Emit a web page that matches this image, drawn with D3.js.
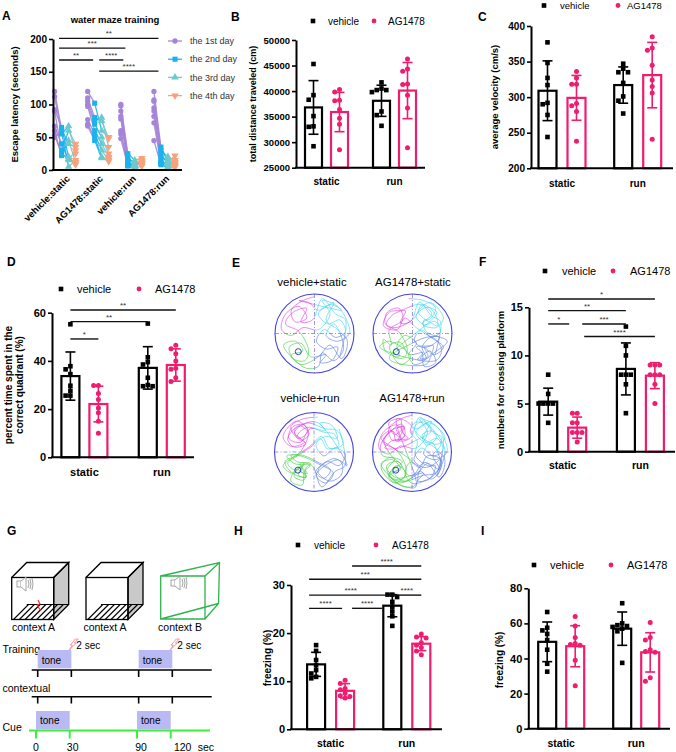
<!DOCTYPE html>
<html><head><meta charset="utf-8">
<script src="https://cdn.jsdelivr.net/npm/d3@7"></script>
<style>body{margin:0;background:#fff}svg{display:block}</style>
</head><body><svg id="c" width="676" height="752"></svg>
<script>
const FONT = '"Liberation Sans", Arial, Helvetica, sans-serif';
const PINK = "#ef1c6f";

// ---------- DATA ----------
const barCats = ["static", "run"];
const barGroups = ["vehicle", "AG1478"];

// Panel A: escape latency per mouse, [day1, day2, day3, day4]
const A_groups = ["vehicle:static", "AG1478:static", "vehicle:run", "AG1478:run"];
const A_days = ["the 1st day", "the 2nd day", "the 3rd day", "the 4th day"];
const A_ticks = [0, 50, 100, 150, 200];
const A_vehicleStatic = [[120,62,40,35],[112,55,67,25],[92,65,20,10],[90,30,60,40],[67,40,15,30],[60,22,45,12],[53,25,17,8],[50,58,5,15]];
const A_agStatic = [[120,102,60,50],[110,80,75,48],[105,75,80,35],[100,70,50,25],[97,60,40,20],[77,55,30,15],[70,50,20,13],[67,45,18,18]];
const A_vehicleRun = [[100,25,15,18],[98,20,8,15],[90,15,12,10],[82,12,5,13],[78,10,10,8],[60,8,6,12],[55,7,9,9],[48,6,3,6]];
const A_agRun = [[120,35,12,22],[107,30,20,10],[105,25,8,15],[95,20,15,7],[90,15,6,12],[82,12,10,8],[72,10,5,6],[45,8,3,4]];
const A_sig = [{a:0,b:3,v:201,l:"**"},{a:0,b:2,v:186,l:"***"},{a:0,b:1,v:168,l:"**"},{a:1,b:2,v:168,l:"****"},{a:1,b:3,v:151,l:"****"}];

// Panel B: total distance (order: vehicle static, AG static, vehicle run, AG run)
const B_mean = [36800, 35900, 38100, 40100];
const B_sd = [5250, 3850, 3050, 5500];
const B_pts = [[45300,39200,38300,35100,33100,33000,29200],[40300,39800,38200,38100,36400,34700,33500,28500],[41700,40500,40200,40200,39800,36000,35300,33200],[46300,44300,43900,41400,41300,39200,36700,28900]];
const B_ticks = [25000,30000,35000,40000,45000,50000];

// Panel C: average velocity
const C_mean = [309, 299, 317, 331];
const C_sd = [42, 31.5, 25.5, 46];
const C_pts = [[377,348,327,317,292,290,275,244],[336,327,318,318,291,288,280,238],[347,340,335,335,320,301,295,277],[385,369,366,345,324,315,306,241]];
const C_ticks = [200,250,300,350,400];

// Panel D: percent time in correct quadrant
const D_mean = [33.7, 22.1, 37.1, 38.3];
const D_sd = [10, 7.4, 8.8, 6.7];
const D_pts = [[55.2,37.8,36.5,34.5,29.7,27.6,25.6,25.6],[29.8,29.8,26.5,24,20.5,18.5,15,10],[55.5,41.5,39.5,38.5,33,30,29.5,29.5],[46.5,45,43,40,37,36.5,33,31.5]];
const D_ticks = [0,20,40,60];
const D_sig = [{a:0,b:3,v:61.1,l:"**"},{a:0,b:2,v:56.3,l:"**"},{a:0,b:1,v:49.1,l:"*"}];

// Panel F: platform crossings
const F_mean = [5.2, 2.5, 8.6, 7.9];
const F_sd = [1.4, 1.1, 2.7, 1.35];
const F_pts = [[8,6,5,5,5,5,3],[4,4,3,3,2,2,2,1],[13,11,10,8,8,8,7,4],[9,9,9,8,8,8,7,5]];
const F_ticks = [0,5,10,15];
const F_sig = [{a:0,b:3,v:15.86,l:"*"},{a:0,b:2,v:14.65,l:"**"},{a:0,b:1,v:13.27,l:"*",s2:8},{a:1,b:2,v:13.27,l:"***",s1:5},{a:1,b:3,v:11.96,l:"****",s1:7}];

// Panel H: freezing (contextual)
const H_mean = [13.5, 8.0, 25.7, 17.8];
const H_sd = [2.5, 1.5, 2.3, 1.45];
const H_pts = [[17.5,16.3,14.4,13.3,12.3,11.6,10.9,10.6],[10.2,9.5,8.5,8.2,7.5,7,6.8,6.5],[28,28,27.5,26.5,25.5,24.5,23.5,21.5],[19.8,19.2,19,18,17.5,17,16.3,15.5]];
const H_ticks = [0,10,20,30];
const H_sig = [{a:1,b:3,v:33.95,l:"****",s1:7},{a:0,b:3,v:31.2,l:"***",s1:-7},{a:0,b:2,v:27.9,l:"****",s1:-7},{a:2,b:3,v:27.9,l:"****"},{a:0,b:1,v:25.15,l:"****",s1:-7,s2:3},{a:1,b:2,v:25.15,l:"****",s1:7,s2:10}];

// Panel I: freezing (cue)
const I_mean = [49.5, 47, 57, 43.5];
const I_sd = [11.3, 11.7, 9.5, 11.2];
const I_pts = [[66.5,57.5,56,54,50.5,45,37,32.5],[64,58.5,52,48.5,48,47.5,39,24.5],[71.5,60,59,58.5,58,57,55.5,37.5],[60.5,52,50.5,45,44,43.5,29,27]];
const I_ticks = [0,20,40,60,80];

// Panel E: swim trajectories (unit-disk coords)
const E_labels = ["vehicle+static", "AG1478+static", "vehicle+run", "AG1478+run"];
const E_traj1 = [[0.0,-0.95],[-0.3,-0.85],[-0.6,-0.6],[-0.5,-0.3],[-0.2,-0.4],[-0.4,-0.7],[-0.75,-0.5],[-0.85,-0.1],[-0.6,0.05],[-0.3,-0.15],[0.1,-0.1],[0.4,-0.5],[0.2,-0.85],[0.6,-0.7],[0.85,-0.3],[0.9,0.0],[0.6,0.2],[0.3,0.05],[0.5,-0.25],[0.75,0.4],[0.5,0.7],[0.2,0.5],[0.1,0.85],[-0.2,0.9],[-0.5,0.7],[-0.8,0.3],[-0.5,0.2],[-0.3,0.45],[-0.6,0.55],[-0.35,0.8],[0.1,0.6],[0.4,0.3],[0.7,0.65],[0.85,0.2],[0.6,-0.1],[0.3,-0.35],[0.5,-0.8],[0.1,-0.6],[-0.15,-0.8],[-0.4,-0.85]];
const E_traj2 = [[0.1,-0.9],[-0.3,-0.85],[-0.6,-0.65],[-0.4,-0.35],[-0.15,-0.55],[-0.45,-0.8],[-0.8,-0.4],[-0.6,-0.15],[-0.25,-0.25],[-0.5,-0.5],[-0.2,-0.75],[0.3,-0.6],[0.6,-0.55],[0.75,-0.2],[0.4,-0.1],[0.2,-0.4],[-0.1,-0.15],[-0.55,0.15],[-0.8,0.35],[-0.55,0.55],[-0.3,0.35],[-0.4,0.6],[-0.2,0.65],[-0.45,0.45],[-0.6,0.75],[-0.3,0.85],[-0.25,0.5],[-0.1,0.35],[-0.5,0.3],[-0.7,0.1],[-0.35,0.1],[0.1,0.3],[0.5,0.55],[0.3,0.8],[0.05,0.6],[0.6,0.2],[0.85,0.35]];
const E_traj3 = [[0.7,-0.6],[0.4,-0.75],[0.1,-0.5],[0.35,-0.25],[0.65,-0.35],[0.8,-0.05],[0.55,0.1],[0.25,-0.1],[0.05,0.2],[0.3,0.4],[0.6,0.35],[0.45,0.7],[0.15,0.75],[0.3,0.55],[-0.1,0.6],[-0.35,0.25],[-0.65,0.35],[-0.55,0.65],[-0.25,0.7],[-0.15,0.45],[-0.4,-0.05],[-0.75,-0.25],[-0.55,-0.55],[-0.2,-0.65],[-0.35,-0.3],[-0.05,-0.35],[0.2,-0.9],[0.55,-0.5],[0.8,-0.35],[0.65,0.6]];
const E_platform = [-0.41, 0.46];

// Panel G: timeline
const G_marks = [0, 30, 90, 120];
const G_tones = [[0, 30], [90, 120]];
const G_contexts = ["context A", "context A", "context B"];

// ---------- DRAW ----------
const svg = d3.select("#c");
svg.append("rect").attr("width",676).attr("height",752).attr("fill","#fff");

function txt(g, x, y, s, o = {}) {
  return g.append("text").attr("x", x).attr("y", y).text(s)
    .attr("font-family", FONT).attr("font-size", o.size || 10)
    .attr("font-weight", o.bold ? "bold" : "normal")
    .attr("text-anchor", o.anchor || "start")
    .attr("fill", o.fill || "#000");
}
function ln(g, x1, y1, x2, y2, stroke = "#000", w = 1.5) {
  return g.append("line").attr("x1",x1).attr("y1",y1).attr("x2",x2).attr("y2",y2)
    .attr("stroke",stroke).attr("stroke-width",w);
}

// panel letters
[["A",2,20],["B",231,21],["C",478,21],["D",7,266],["E",232,267],["F",479,266],["G",7,535],["H",234,535],["I",481,535]]
  .forEach(([s,x,y]) => txt(svg,x,y,s,{size:12,bold:true}));

function styleAxis(sel, size) {
  sel.select(".domain").attr("stroke","#000").attr("stroke-width",2);
  sel.selectAll(".tick line").attr("stroke","#000").attr("stroke-width",1.6);
  sel.selectAll(".tick text").attr("font-family",FONT).attr("font-size",size).attr("font-weight","bold").attr("fill","#000");
}

function legend2(g, y, xs, size) {
  g.append("rect").attr("x",xs[0]-2.3).attr("y",y-2.3).attr("width",4.6).attr("height",4.6).attr("fill","#000");
  txt(g, xs[1], y + size*0.36, barGroups[0], {size});
  g.append("circle").attr("cx",xs[2]).attr("cy",y).attr("r",2.4).attr("fill",PINK);
  txt(g, xs[3], y + size*0.36, barGroups[1], {size});
}

function barPanel(p, mean, sd, pts, ticks, sig) {
  const g = svg.append("g");
  const y = d3.scaleLinear().domain([ticks[0], ticks[ticks.length-1]]).range([p.yBot, p.yTop]);
  const step = p.c1 - p.c0;
  const xc = d3.scaleBand().domain(barCats).range([p.c0 - step/2, p.c1 + step/2]);
  const xs = d3.scalePoint().domain(barGroups).range([-p.off, p.off]);
  const cx = i => xc(barCats[Math.floor(i/2)]) + xc.bandwidth()/2 + xs(barGroups[i%2]);
  const col = i => i % 2 ? PINK : "#000";
  const y0 = y(ticks[0]);

  mean.forEach((m, i) => {
    g.append("rect").attr("x", cx(i) - p.bw/2).attr("y", y(m))
      .attr("width", p.bw).attr("height", y0 - y(m))
      .attr("fill", "#fff").attr("stroke", col(i)).attr("stroke-width", 2.2);
  });
  mean.forEach((m, i) => {
    const c = cx(i), cap = 5;
    ln(g, c, y(m + sd[i]), c, y(m - sd[i]), col(i), 1.6);
    ln(g, c - cap, y(m + sd[i]), c + cap, y(m + sd[i]), col(i), 1.6);
    ln(g, c - cap, y(m - sd[i]), c + cap, y(m - sd[i]), col(i), 1.6);
  });
  pts.forEach((arr, i) => {
    const placed = [];
    const sp = 4.8;
    arr.forEach(v => {
      const py = y(v);
      const offs = [0, -sp, sp, -2*sp, 2*sp];
      let off = 0;
      for (const o of offs) {
        if (placed.every(q => Math.abs(q[1]-py) >= sp || Math.abs(q[0]-o) >= sp)) { off = o; break; }
      }
      placed.push([off, py]);
      if (i % 2 === 0) {
        g.append("rect").attr("x", cx(i)+off-2.3).attr("y", py-2.3).attr("width",4.6).attr("height",4.6).attr("fill","#000");
      } else {
        g.append("circle").attr("cx", cx(i)+off).attr("cy", py).attr("r", 2.5).attr("fill", PINK);
      }
    });
  });
  const ya = g.append("g").attr("transform", `translate(${p.ax},0)`)
    .call(d3.axisLeft(y).tickValues(ticks).tickSize(4).tickSizeOuter(0).tickPadding(2).tickFormat(d3.format("d")));
  styleAxis(ya, p.tick);
  ln(g, p.ax - 1, y0, p.axEnd, y0, "#000", 2);
  barCats.forEach(c => txt(g, xc(c) + xc.bandwidth()/2, p.catY, c, {size:p.cat, bold:true, anchor:"middle"}));
  const ly = g.append("text").attr("transform", `translate(${p.lx},${p.ly}) rotate(-90)`)
    .attr("font-family",FONT).attr("font-size",p.lsize).attr("font-weight","bold").attr("text-anchor","middle");
  p.label.forEach((s, k) => ly.append("tspan").attr("x",0).attr("dy", k ? p.lsize*1.1 : 0).text(s));
  legend2(g, p.legY, p.legX, p.leg);
  (sig || []).forEach(s => {
    const x1 = cx(s.a) + (s.s1 || 0), x2 = cx(s.b) - (s.s2 || 0), yy = y(s.v);
    ln(g, x1, yy, x2, yy, "#111", 1.4);
    txt(g, (x1+x2)/2, yy - 2, s.l, {size:8, anchor:"middle", fill:"#333"});
  });
}

barPanel({ax:296, axEnd:425, yTop:40, yBot:167.7, c0:326.5, c1:394.5, off:13, bw:17, tick:9.5, cat:10, catY:185,
  label:["total distance traveled (cm)"], lx:256, ly:104, lsize:9, legY:21, legX:[313,328,374,388], leg:10},
  B_mean, B_sd, B_pts, B_ticks);
barPanel({ax:531, axEnd:673, yTop:26, yBot:168.3, c0:562, c1:637.7, off:14.5, bw:18, tick:10, cat:10, catY:187,
  label:["average velocity (cm/s)"], lx:498, ly:97, lsize:9.5, legY:5.5, legX:[544,560,618,627], leg:9.5},
  C_mean, C_sd, C_pts, C_ticks);
barPanel({ax:52, axEnd:194, yTop:312.7, yBot:457.3, c0:84.4, c1:161.8, off:14, bw:18, tick:11, cat:11, catY:475.5,
  label:["percent time spent in the","correct quadrant (%)"], lx:12, ly:385, lsize:10, legY:289, legX:[61,77,139,155], leg:11},
  D_mean, D_sd, D_pts, D_ticks, D_sig);
barPanel({ax:529, axEnd:675, yTop:307.3, yBot:451.7, c0:562.7, c1:640.4, off:14.5, bw:18, tick:11, cat:10.5, catY:469,
  label:["numbers for crossing platform"], lx:504, ly:380, lsize:9.5, legY:271, legX:[545,562,613,630], leg:11},
  F_mean, F_sd, F_pts, F_ticks, F_sig);
barPanel({ax:291, axEnd:442, yTop:585, yBot:729.3, c0:330.6, c1:406.8, off:14.5, bw:18, tick:11, cat:10.5, catY:747,
  label:["freezing (%)"], lx:271, ly:658, lsize:10, legY:545, legX:[298,314,376,392], leg:10},
  H_mean, H_sd, H_pts, H_ticks, H_sig);
barPanel({ax:528.3, axEnd:670, yTop:588.3, yBot:728.7, c0:561.2, c1:636.2, off:14, bw:18, tick:11, cat:10.5, catY:746.5,
  label:["freezing (%)"], lx:503, ly:660, lsize:10, legY:565, legX:[534,550,611,627], leg:11},
  I_mean, I_sd, I_pts, I_ticks);

// ---------- Panel A ----------
(function() {
  const g = svg.append("g");
  const y = d3.scaleLinear().domain([0, 200]).range([170, 39]);
  const xg = d3.scaleBand().domain(A_groups).range([48.5, 181]);
  const xd = d3.scalePoint().domain(A_days).range([-10.5, 10.5]);
  const colors = ["#a585d8", "#1cb2ec", "#6ec9cc", "#f7a27d"];
  const shapes = [d3.symbolCircle, d3.symbolSquare, d3.symbolTriangle, d3.symbolTriangle];
  const rot = [0, 0, 0, 180];
  const sizes = [22, 26, 24, 24];
  const groupData = [A_vehicleStatic, A_agStatic, A_vehicleRun, A_agRun];
  const gx = (gi, d) => xg(A_groups[gi]) + xg.bandwidth()/2 + xd(A_days[d]);
  groupData.forEach((mice, gi) => {
    mice.forEach(m => {
      for (let d = 0; d < 3; d++) {
        ln(g, gx(gi, d), y(m[d]), gx(gi, d+1), y(m[d+1]), colors[d], 1.3).attr("stroke-opacity", 0.9);
      }
    });
  });
  groupData.forEach((mice, gi) => {
    mice.forEach(m => {
      m.forEach((v, d) => {
        g.append("path").attr("d", d3.symbol().type(shapes[d]).size(sizes[d])())
          .attr("transform", `translate(${gx(gi,d)},${y(v)}) rotate(${rot[d]})`).attr("fill", colors[d]);
      });
    });
  });
  const ya = g.append("g").attr("transform","translate(53,0)")
    .call(d3.axisLeft(y).tickValues(A_ticks).tickSize(4).tickSizeOuter(0).tickPadding(2));
  styleAxis(ya, 10);
  ln(g, 52, 170, 182, 170, "#000", 2);
  A_groups.forEach(s => {
    g.append("text").attr("transform", `translate(${xg(s)+xg.bandwidth()/2+3},177) rotate(-45)`)
      .attr("text-anchor","end").attr("dy","0.35em").attr("font-family",FONT).attr("font-size",9.5).attr("font-weight","bold").text(s);
  });
  g.append("text").attr("transform","translate(18,104.5) rotate(-90)").attr("text-anchor","middle")
    .attr("font-family",FONT).attr("font-size",9.5).attr("font-weight","bold").text("Escape latency (seconds)");
  txt(g, 115, 23, "water maze training", {size:9.5, bold:true, anchor:"middle"});
  const sx = (gi) => xg(A_groups[gi]) + xg.bandwidth()/2 - 6;
  A_sig.forEach(s => {
    const x1 = sx(s.a) + (s.a === 1 ? 7 : 0), x2 = sx(s.b) - (s.b === 1 ? -1 : (s.a === 1 && s.b === 2 ? 2 : 0));
    ln(g, x1, y(s.v), x2, y(s.v), "#111", 1.4);
    txt(g, (x1+x2)/2, y(s.v) - 2, s.l, {size:8, anchor:"middle", fill:"#333"});
  });
  A_days.forEach((s, d) => {
    const yy = 41 + d * 18.2;
    ln(g, 168, yy, 182, yy, colors[d], 1.3);
    g.append("path").attr("d", d3.symbol().type(shapes[d]).size(sizes[d])())
      .attr("transform", `translate(175,${yy}) rotate(${rot[d]})`).attr("fill", colors[d]);
    txt(g, 190, yy + 3.2, s, {size:9, fill:"#333"});
  });
})();

// ---------- Panel E ----------
(function() {
  const centers = [[314.5,333.5],[412.5,333.5],[314,452],[412,452]];
  const r = 39.5;
  const qcols = ["#e244e2", "#46d4ee", "#46d046", "#5f82e0"];
  const mirrorX = t => t.map(p => [-p[0], p[1]]);
  const mirrorY = t => t.map(p => [p[0], -p[1]]);
  const rot90 = t => t.map(p => [-p[1], p[0]]);
  const scl = (t, s) => t.map(p => [p[0]*s, p[1]*s]);
  const trajs = [
    E_traj1.concat(E_traj3),
    mirrorX(E_traj2).concat(rot90(E_traj3), scl(E_traj3, 0.9)),
    E_traj2.concat(scl(E_traj2, 0.85), mirrorY(E_traj3)),
    E_traj1.concat(mirrorY(E_traj2), E_traj3, scl(rot90(E_traj1), 0.9))
  ];
  const labelPos = [[312,286],[413,286],[310,402],[412,402]];
  centers.forEach(([cx, cy], k) => {
    const g = svg.append("g").attr("transform", `translate(${cx},${cy})`);
    const line = d3.line().x(d => d[0]*r*0.98).y(d => d[1]*r*0.98).curve(d3.curveCatmullRom.alpha(0.5));
    const quads = [[-r,-r],[0,-r],[-r,0],[0,0]];
    quads.forEach(([qx,qy], qi) => {
      const id = `clip${k}_${qi}`;
      const cp = g.append("clipPath").attr("id", id);
      cp.append("rect").attr("x",qx).attr("y",qy).attr("width",r).attr("height",r);
      g.append("path").attr("d", line(trajs[k])).attr("fill","none").attr("stroke",qcols[qi])
        .attr("stroke-width",0.75).attr("stroke-opacity",0.85).attr("clip-path",`url(#${id})`);
    });
    ln(g, -r, 0, r, 0, "#7f7fe6", 0.8).attr("stroke-dasharray","4,2,1,2");
    ln(g, 0, -r, 0, r, "#7f7fe6", 0.8).attr("stroke-dasharray","4,2,1,2");
    g.append("circle").attr("r", r).attr("fill","none").attr("stroke","#4545dc").attr("stroke-width",1.1);
    g.append("circle").attr("cx",E_platform[0]*r).attr("cy",E_platform[1]*r).attr("r",3)
      .attr("fill","none").attr("stroke","#3a3ad0").attr("stroke-width",1);
    txt(svg, labelPos[k][0], labelPos[k][1], E_labels[k], {size:11.5, anchor:"middle"});
  });
})();

// ---------- Panel G ----------
(function() {
  const g = svg.append("g");
  function speaker(x, y, s) {
    const c = "#9a9a9a";
    g.append("rect").attr("x",x).attr("y",y-3*s).attr("width",4*s).attr("height",6*s).attr("fill","#fff").attr("stroke",c).attr("stroke-width",0.9);
    g.append("path").attr("d",`M${x+4*s},${y-3*s} L${x+9*s},${y-7*s} L${x+9*s},${y+7*s} L${x+4*s},${y+3*s}`).attr("fill","#fff").attr("stroke",c).attr("stroke-width",0.9);
    [11,13,15].forEach((d,i) => g.append("path")
      .attr("d", `M${x+d*s},${y-(4+i)*s} Q${x+(d+2)*s},${y} ${x+d*s},${y+(4+i)*s}`).attr("fill","none").attr("stroke",c).attr("stroke-width",0.9));
  }
  function cube(x, y, hatch) {
    const w = 42, dd = 15;
    g.append("path").attr("d",`M${x+w},${y} L${x+w+dd},${y-dd} L${x+w+dd},${y+w-dd} L${x+w},${y+w} Z`).attr("fill","#c9c9c9").attr("stroke","#000").attr("stroke-width",1.3);
    g.append("path").attr("d",`M${x},${y} L${x+dd},${y-dd} L${x+w+dd},${y-dd} L${x+w},${y}`).attr("fill","none").attr("stroke","#000").attr("stroke-width",1.3);
    ln(g, x+dd, y+w-dd, x+w+dd, y+w-dd, "#000", 1.1);
    if (hatch) for (let k = 1; k <= 7; k++) { const hx = x + k*5.8; ln(g, hx - 4, y+w, hx - 4 + dd, y+w-dd, "#000", 1.1); }
    g.append("rect").attr("x",x).attr("y",y).attr("width",w).attr("height",w).attr("fill","none").attr("stroke","#000").attr("stroke-width",1.3);
  }
  cube(11.7, 577.5, true);
  cube(86, 577.5, true);
  speaker(17, 584, 1);
  g.append("path").attr("d","M38,600 L40,604 L37,605 L41,611").attr("fill","none").attr("stroke","#e33").attr("stroke-width",1.2);
  const gr = "#2fb34f";
  g.append("path").attr("d","M160.7,576 L205,576 L205,619 L160.7,619 Z M160.7,576 L219.5,562.5 L218.5,603.5 L205,619 M205,576 L219.5,562.5 M160.7,619 L218.5,603.5")
    .attr("fill","none").attr("stroke",gr).attr("stroke-width",1.3);
  speaker(171, 583, 1);
  [33.5, 105, 180].forEach((x, i) => txt(g, x, 631, G_contexts[i], {size:10.5, anchor:"middle"}));

  const tx = d3.scaleLinear().domain([0,120]).range([37.7,172.3]);
  const tc = d3.scaleLinear().domain([0,120]).range([36,170.7]);
  txt(g, 2.5, 653, "Training", {size:10.5});
  G_tones.forEach(([a,b]) => {
    g.append("rect").attr("x",tx(a)).attr("y",650).attr("width",tx(b)-tx(a)).attr("height",18.3).attr("fill","#b9b9f3");
    txt(g, tx(a)+4, 663.5, "tone", {size:10});
    const ex = tx(b);
    g.append("path").attr("d",`M${ex-2},${650} L${ex+1},${645} L${ex-1},${645} L${ex+4},${639} L${ex+7},${639} L${ex+3},${643} L${ex+5},${643} L${ex-2},${650}`)
      .attr("fill","none").attr("stroke","#f08a9a").attr("stroke-width",0.9);
    txt(g, ex+5, 649, "2 sec", {size:10});
  });
  ln(g, 31.7, 670, 211.7, 670, "#000", 1.5);
  G_marks.forEach(m => ln(g, tx(m), 670, tx(m), 677, "#000", 1.6));
  txt(g, 2.5, 692, "contextual", {size:10.5});
  ln(g, 31.7, 696.7, 211.7, 696.7, "#000", 1.5);
  G_marks.forEach(m => ln(g, tx(m), 696.7, tx(m), 703.5, "#000", 1.6));
  txt(g, 2.5, 730.5, "Cue", {size:10.5});
  G_tones.forEach(([a,b]) => {
    g.append("rect").attr("x",tc(a)).attr("y",711).attr("width",tc(b)-tc(a)).attr("height",18.3).attr("fill","#b9b9f3");
    txt(g, tc(a)+4, 724, "tone", {size:10});
  });
  ln(g, 29, 730.5, 210, 730.5, "#3cf03c", 2);
  G_marks.forEach(m => ln(g, tc(m), 730.5, tc(m), 738.5, "#3cf03c", 2));
  const lab = [[0,0],[30,3],[90,4],[120,12]];
  lab.forEach(([m,o]) => txt(g, tc(m)+o, 751, String(m), {size:10.5, anchor:"middle"}));
  txt(g, tc(120)+27, 751, "sec", {size:10.5});
})();
</script></body></html>
